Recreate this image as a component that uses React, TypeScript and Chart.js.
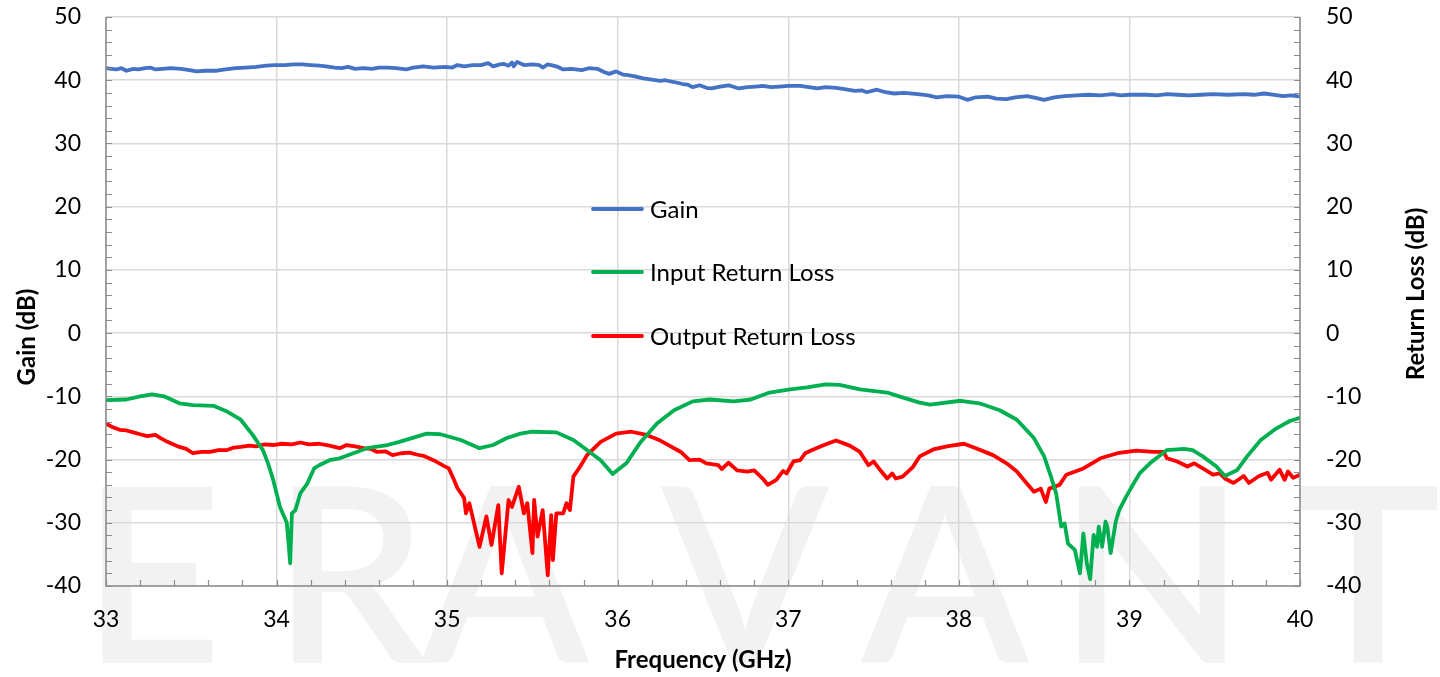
import React, { useEffect, useRef } from "react";
import { Chart, registerables } from "chart.js";

Chart.register(...registerables);

const FONT = "Lato, 'Open Sans', sans-serif";

// ---------- data ----------
const seriesNames = ["Gain", "Input Return Loss", "Output Return Loss"];
const seriesColors = ["#4472C4", "#00B050", "#FF0000"];

const xMin = 33;
const xMax = 40;
const yMin = -40;
const yMax = 50;

const gainDb: [number, number][] = [
  [33.0, 41.9], [33.03, 41.8], [33.06, 41.7], [33.09, 41.9], [33.12, 41.5], [33.16, 41.8], [33.19, 41.7],
  [33.23, 41.9], [33.26, 42.0], [33.29, 41.7], [33.33, 41.8], [33.38, 41.9], [33.44, 41.8], [33.49, 41.6],
  [33.53, 41.4], [33.58, 41.5], [33.65, 41.5], [33.7, 41.7], [33.76, 41.9], [33.82, 42.0], [33.88, 42.1],
  [33.94, 42.3], [33.99, 42.4], [34.05, 42.4], [34.1, 42.5], [34.15, 42.5], [34.2, 42.4], [34.25, 42.3],
  [34.29, 42.2], [34.34, 42.0], [34.38, 41.9], [34.42, 42.1], [34.46, 41.8], [34.51, 41.9], [34.56, 41.8],
  [34.6, 42.0], [34.65, 42.0], [34.7, 41.9], [34.76, 41.7], [34.8, 42.0], [34.86, 42.2], [34.92, 42.0],
  [34.99, 42.1], [35.03, 42.0], [35.06, 42.4], [35.1, 42.2], [35.15, 42.4], [35.2, 42.4], [35.24, 42.7],
  [35.27, 42.2], [35.31, 42.5], [35.33, 42.6], [35.36, 42.3], [35.38, 42.8], [35.39, 42.2], [35.41, 42.9],
  [35.45, 42.4], [35.5, 42.5], [35.54, 42.4], [35.56, 42.0], [35.59, 42.5], [35.61, 42.4], [35.65, 42.1],
  [35.68, 41.7], [35.73, 41.8], [35.79, 41.6], [35.83, 41.9], [35.88, 41.8], [35.92, 41.3], [35.95, 41.0],
  [35.99, 41.4], [36.03, 40.9], [36.06, 40.8], [36.1, 40.6], [36.15, 40.3], [36.2, 40.1], [36.25, 39.9],
  [36.28, 40.0], [36.31, 39.8], [36.35, 39.6], [36.38, 39.4], [36.41, 39.3], [36.44, 38.9], [36.48, 39.2],
  [36.52, 38.8], [36.55, 38.7], [36.6, 39.0], [36.65, 39.2], [36.71, 38.7], [36.76, 38.9], [36.81, 39.0],
  [36.85, 39.1], [36.9, 38.9], [36.95, 39.0], [37.0, 39.1], [37.07, 39.1], [37.12, 38.9], [37.17, 38.7],
  [37.22, 38.9], [37.28, 38.8], [37.33, 38.6], [37.39, 38.3], [37.43, 38.4], [37.46, 38.1], [37.52, 38.5],
  [37.57, 38.1], [37.62, 37.9], [37.68, 38.0], [37.76, 37.8], [37.82, 37.6], [37.87, 37.3], [37.93, 37.5],
  [38.0, 37.4], [38.05, 36.9], [38.1, 37.3], [38.17, 37.4], [38.22, 37.1], [38.28, 37.0], [38.33, 37.3],
  [38.4, 37.5], [38.45, 37.2], [38.5, 36.9], [38.56, 37.3], [38.62, 37.5], [38.69, 37.6], [38.76, 37.7],
  [38.83, 37.6], [38.9, 37.8], [38.95, 37.6], [39.0, 37.7], [39.1, 37.7], [39.16, 37.6], [39.22, 37.8],
  [39.28, 37.7], [39.35, 37.6], [39.42, 37.7], [39.49, 37.8], [39.58, 37.7], [39.67, 37.8], [39.73, 37.7],
  [39.79, 37.9], [39.85, 37.7], [39.9, 37.5], [39.95, 37.6], [40.0, 37.4],
];

const inputReturnLoss: [number, number][] = [
  [33.0, -10.6], [33.12, -10.5], [33.2, -10.0], [33.27, -9.7], [33.34, -10.0], [33.43, -11.1],
  [33.51, -11.4], [33.63, -11.5], [33.71, -12.4], [33.79, -13.7], [33.86, -16.1], [33.92, -18.5],
  [33.95, -20.6], [33.98, -23.2], [34.02, -27.5], [34.06, -30.0], [34.08, -36.4], [34.09, -28.5],
  [34.11, -28.0], [34.14, -25.3], [34.18, -23.8], [34.22, -21.4], [34.25, -20.9], [34.31, -20.1],
  [34.37, -19.8], [34.45, -19.0], [34.53, -18.2], [34.65, -17.7], [34.72, -17.2], [34.88, -15.9],
  [34.96, -16.0], [35.08, -16.9], [35.19, -18.2], [35.27, -17.7], [35.35, -16.6], [35.43, -15.9],
  [35.5, -15.6], [35.64, -15.7], [35.74, -16.9], [35.82, -18.5], [35.9, -20.1], [35.97, -22.3],
  [36.05, -20.6], [36.13, -17.4], [36.23, -14.3], [36.33, -12.2], [36.44, -10.8], [36.54, -10.5],
  [36.68, -10.8], [36.78, -10.5], [36.89, -9.4], [37.01, -8.9], [37.11, -8.6], [37.22, -8.1],
  [37.3, -8.2], [37.42, -8.9], [37.58, -9.4], [37.65, -10.0], [37.77, -11.0], [37.83, -11.3],
  [38.01, -10.7], [38.12, -11.1], [38.24, -12.2], [38.34, -13.7], [38.44, -16.6], [38.5, -19.5],
  [38.54, -22.7], [38.57, -25.3], [38.6, -30.6], [38.62, -30.1], [38.64, -33.3], [38.68, -34.3],
  [38.71, -38.0], [38.73, -31.7], [38.75, -36.4], [38.77, -38.9], [38.79, -31.9], [38.81, -33.8],
  [38.82, -30.6], [38.84, -33.8], [38.86, -29.8], [38.87, -30.6], [38.89, -34.8], [38.92, -29.8],
  [38.94, -28.0], [38.98, -25.9], [39.02, -24.0], [39.06, -22.2], [39.12, -20.6], [39.22, -18.5],
  [39.32, -18.3], [39.37, -18.5], [39.43, -19.5], [39.51, -21.1], [39.56, -22.6], [39.63, -21.7],
  [39.69, -19.5], [39.77, -16.9], [39.86, -15.1], [39.94, -13.9], [40.0, -13.4],
];

const outputReturnLoss: [number, number][] = [
  [33.0, -14.3], [33.04, -14.9], [33.08, -15.3], [33.12, -15.4], [33.16, -15.7], [33.2, -16.0],
  [33.24, -16.3], [33.29, -16.1], [33.32, -16.6], [33.36, -17.2], [33.43, -18.0], [33.47, -18.3],
  [33.51, -19.0], [33.56, -18.8], [33.61, -18.8], [33.66, -18.5], [33.71, -18.5], [33.75, -18.1],
  [33.79, -18.0], [33.84, -17.8], [33.88, -17.9], [33.93, -17.6], [33.98, -17.7], [34.03, -17.5],
  [34.09, -17.6], [34.14, -17.3], [34.19, -17.6], [34.25, -17.5], [34.31, -17.8], [34.37, -18.2],
  [34.41, -17.7], [34.46, -17.9], [34.51, -18.2], [34.55, -18.3], [34.59, -18.8], [34.64, -18.7],
  [34.68, -19.3], [34.73, -19.0], [34.78, -18.9], [34.82, -19.2], [34.86, -19.4], [34.92, -20.1],
  [34.98, -21.0], [35.01, -21.4], [35.04, -23.2], [35.06, -24.5], [35.1, -26.1], [35.11, -28.5],
  [35.13, -26.9], [35.19, -33.8], [35.23, -29.0], [35.26, -33.5], [35.3, -27.2], [35.32, -38.0],
  [35.36, -26.4], [35.38, -27.5], [35.42, -24.3], [35.45, -28.5], [35.47, -26.9], [35.5, -34.8],
  [35.51, -26.4], [35.53, -32.2], [35.56, -28.0], [35.59, -38.3], [35.61, -28.8], [35.62, -35.9],
  [35.64, -28.5], [35.68, -28.5], [35.7, -26.9], [35.72, -28.0], [35.74, -22.7], [35.78, -21.1],
  [35.82, -19.3], [35.9, -17.2], [35.99, -15.9], [36.08, -15.6], [36.17, -16.1], [36.25, -17.0],
  [36.37, -18.8], [36.42, -20.1], [36.48, -20.0], [36.52, -20.6], [36.59, -20.9], [36.61, -21.5],
  [36.65, -20.5], [36.7, -21.7], [36.76, -21.9], [36.8, -21.7], [36.85, -23.0], [36.88, -24.0],
  [36.93, -23.2], [36.97, -21.8], [36.99, -22.2], [37.03, -20.3], [37.07, -20.1], [37.1, -19.0],
  [37.13, -18.6], [37.21, -17.7], [37.28, -17.0], [37.36, -17.8], [37.42, -18.8], [37.47, -20.9],
  [37.5, -20.3], [37.54, -21.7], [37.58, -23.0], [37.61, -22.2], [37.63, -23.0], [37.67, -22.7],
  [37.73, -21.2], [37.77, -19.5], [37.85, -18.4], [37.93, -17.9], [38.03, -17.5], [38.1, -18.2],
  [38.2, -19.3], [38.28, -20.6], [38.34, -21.9], [38.39, -23.5], [38.44, -25.1], [38.48, -24.6],
  [38.51, -26.7], [38.53, -24.6], [38.59, -24.0], [38.63, -22.4], [38.73, -21.4], [38.83, -19.8],
  [38.93, -19.0], [39.04, -18.6], [39.14, -18.8], [39.2, -18.8], [39.22, -19.8], [39.28, -20.3],
  [39.34, -21.1], [39.38, -20.6], [39.43, -21.4], [39.49, -22.4], [39.53, -22.2], [39.56, -23.0],
  [39.61, -23.7], [39.67, -22.6], [39.7, -23.7], [39.76, -22.6], [39.81, -22.1], [39.83, -23.2],
  [39.88, -21.6], [39.91, -23.2], [39.93, -21.9], [39.96, -22.9], [40.0, -22.4],
];

const axisTitles = { x: "Frequency (GHz)", yLeft: "Gain (dB)", yRight: "Return Loss (dB)" };
const watermark = ["E", "R", "A", "V", "A", "N", "T"];

const allSeries = [gainDb, inputReturnLoss, outputReturnLoss];

// ---------- plugin ----------
const decorPlugin = {
  id: "decor",
  beforeDraw(chart: any) {
    const ctx = chart.ctx;
    ctx.save();
    ctx.fillStyle = "#ffffff";
    ctx.fillRect(0, 0, chart.width, chart.height);
    ctx.fillStyle = "#f2f2f2";
    ctx.font = `600 244px ${FONT}`;
    ctx.textAlign = "center";
    ctx.textBaseline = "alphabetic";
    const xs = [152, 350, 505, 745, 945, 1152, 1368];
    watermark.forEach((l, i) => ctx.fillText(l, xs[i], 663));
    ctx.restore();
  },
  afterDraw(chart: any) {
    const ctx = chart.ctx;
    const { left, right, top, bottom } = chart.chartArea;
    const xs = chart.scales.x;
    const ys = chart.scales.y;
    ctx.save();
    // axes
    ctx.strokeStyle = "#8c8c8c";
    ctx.lineWidth = 1.5;
    ctx.beginPath();
    ctx.moveTo(left, top);
    ctx.lineTo(left, bottom);
    ctx.lineTo(right, bottom);
    ctx.lineTo(right, top);
    ctx.stroke();
    // minor / major tick marks (inside)
    ctx.lineWidth = 1.2;
    ctx.beginPath();
    for (let i = 0; i <= (xMax - xMin) * 5; i++) {
      const px = Math.round(xs.getPixelForValue(xMin + i * 0.2)) + 0.5;
      ctx.moveTo(px, bottom);
      ctx.lineTo(px, bottom - 6);
    }
    for (let i = 0; i <= (yMax - yMin) / 2; i++) {
      const py = Math.round(ys.getPixelForValue(yMin + i * 2)) + 0.5;
      ctx.moveTo(left, py);
      ctx.lineTo(left + 6, py);
      ctx.moveTo(right, py);
      ctx.lineTo(right - 6, py);
    }
    ctx.stroke();

    // axis titles
    ctx.fillStyle = "#000";
    ctx.font = `bold 24px ${FONT}`;
    ctx.textAlign = "center";
    ctx.textBaseline = "middle";
    ctx.fillText(axisTitles.x, 703, 660);
    ctx.save();
    ctx.translate(27, 337);
    ctx.rotate(-Math.PI / 2);
    ctx.fillText(axisTitles.yLeft, 0, 0);
    ctx.restore();
    ctx.save();
    ctx.translate(1416, 294);
    ctx.rotate(-Math.PI / 2);
    ctx.fillText(axisTitles.yRight, 0, 0);
    ctx.restore();

    // legend
    const ly = [209, 272, 336];
    ctx.font = `24px ${FONT}`;
    ctx.textAlign = "left";
    seriesNames.forEach((name, i) => {
      ctx.strokeStyle = seriesColors[i];
      ctx.lineWidth = 3.8;
      ctx.lineCap = "round";
      ctx.beginPath();
      ctx.moveTo(593, ly[i]);
      ctx.lineTo(642, ly[i]);
      ctx.stroke();
      ctx.fillStyle = "#000";
      ctx.fillText(name, 650, ly[i] + 1);
    });
    ctx.restore();
  },
};

const noPad = (s: any) => {
  s.paddingTop = 0;
  s.paddingBottom = 0;
  s.paddingLeft = 0;
  s.paddingRight = 0;
};

export default function App() {
  const ref = useRef<HTMLCanvasElement | null>(null);
  useEffect(() => {
    if (!ref.current) return;
    const tickFont = { family: FONT, size: 23 };
    const chart = new Chart(ref.current, {
      type: "line",
      data: {
        datasets: allSeries.map((s, i) => ({
          label: seriesNames[i],
          data: s.map(([x, y]) => ({ x, y })),
          borderColor: seriesColors[i],
          backgroundColor: seriesColors[i],
          borderWidth: 3.8,
          borderJoinStyle: "round",
          borderCapStyle: "round",
          pointRadius: 0,
          tension: 0,
          yAxisID: "y",
        })),
      },
      options: {
        animation: false,
        responsive: false,
        devicePixelRatio: 1,
        layout: { padding: { top: 17, left: 0, right: 0, bottom: 0 } },
        plugins: { legend: { display: false }, tooltip: { enabled: false } },
        scales: {
          x: {
            type: "linear",
            min: xMin,
            max: xMax,
            ticks: { stepSize: 1, font: tickFont, color: "#000", padding: 20 },
            grid: { color: "#d9d9d9", lineWidth: 1.5, drawTicks: false },
            border: { display: false },
            afterFit: (s: any) => { s.height = 91; noPad(s); },
          },
          y: {
            position: "left",
            min: yMin,
            max: yMax,
            ticks: { stepSize: 10, font: tickFont, color: "#000", padding: 25 },
            grid: { color: "#d9d9d9", lineWidth: 1.5, drawTicks: false },
            border: { display: false },
            afterFit: (s: any) => { s.width = 106; noPad(s); },
          },
          y2: {
            position: "right",
            min: yMin,
            max: yMax,
            ticks: { stepSize: 10, font: tickFont, color: "#000", padding: 26 },
            grid: { display: false, drawTicks: false },
            border: { display: false },
            afterFit: (s: any) => { s.width = 140; noPad(s); },
          },
        },
      },
      plugins: [decorPlugin],
    } as any);
    return () => chart.destroy();
  }, []);
  return (
    <div style={{ position: "fixed", left: 0, top: 0, width: 1440, height: 677, background: "#fff" }}>
      <canvas ref={ref} width={1440} height={677} />
    </div>
  );
}
